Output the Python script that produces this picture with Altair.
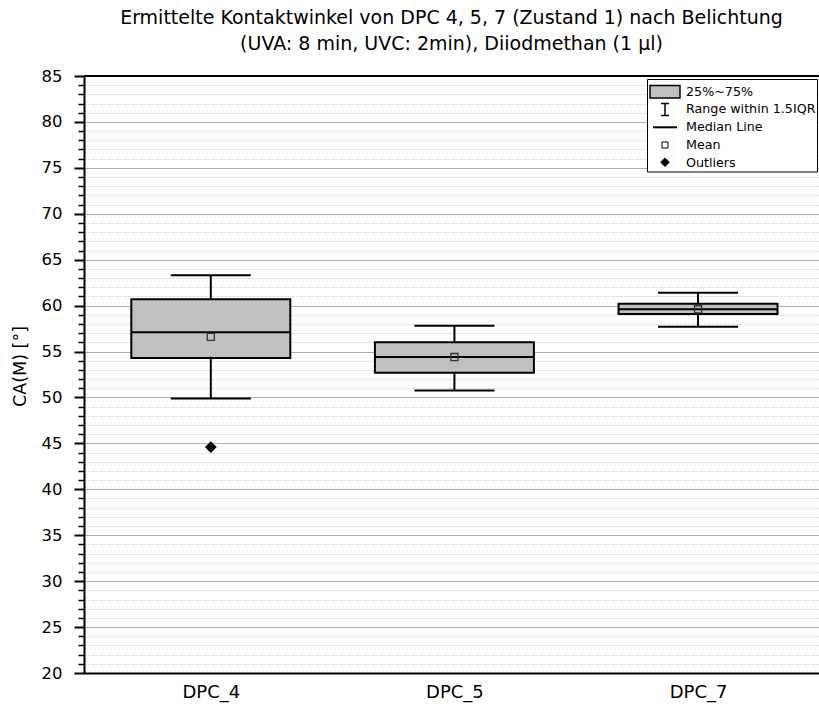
import altair as alt
import pandas as pd

# ---- data ----
groups = ["DPC_4", "DPC_5", "DPC_7"]
positions = [1, 2, 3]
whisker_low = [49.9, 50.75, 57.7]
q1 = [54.3, 52.7, 59.1]
median = [57.1, 54.4, 59.6]
q3 = [60.7, 56.0, 60.2]
whisker_high = [63.3, 57.8, 61.4]
means = [56.6, 54.4, 59.6]

outlier_groups = ["DPC_4"]
outlier_positions = [1]
outlier_values = [44.6]

legend_labels = ["25%~75%", "Range within 1.5IQR", "Median Line", "Mean", "Outliers"]

y_major = list(range(20, 90, 5))
y_minor = [v for v in range(20, 86) if v % 5]

FONT = "DejaVu Sans"
W, H = 735, 597

df = pd.DataFrame(dict(group=groups, pos=positions, lo=whisker_low, q1=q1,
                       med=median, q3=q3, hi=whisker_high, mean=means))
out = pd.DataFrame(dict(group=outlier_groups, pos=outlier_positions, value=outlier_values))
leg = pd.DataFrame(dict(label=legend_labels, row=list(range(len(legend_labels)))))
one = pd.DataFrame({"a": [0]})

xscale = alt.Scale(domain=[0.5, 3.476], nice=False, zero=False)
yscale = alt.Scale(domain=[20, 85], nice=False, zero=False)

label_expr = "[" + ",".join(f"'{g}'" for g in groups) + "][datum.value - 1]"
x_axis = alt.Axis(values=positions, labelExpr=label_expr, title=None, ticks=False,
                  grid=False, domainColor="black", domainWidth=2, labelFontSize=18,
                  labelFont=FONT, labelColor="black", labelPadding=10)
X = alt.X("pos:Q", scale=xscale, axis=x_axis)

minor_axis = alt.Axis(orient="left", values=y_minor, labels=False, title=None,
                      tickSize=6, tickWidth=1.5, tickColor="black", domain=False,
                      grid=True, gridDash=[2, 2], gridColor="#cfcfcf", gridWidth=1)
major_axis = alt.Axis(orient="left", values=y_major, title="CA(M) [°]", tickSize=10,
                      tickWidth=2, tickColor="black", domainColor="black", domainWidth=2,
                      grid=True, gridColor="#b0b0b0", gridWidth=1,
                      labelFontSize=16.5, labelFont=FONT, labelColor="black", labelPadding=12,
                      titleFont=FONT, titleFontSize=17.5, titleFontWeight="normal",
                      titleColor="black", titlePadding=12, titleY=290)

base = alt.Chart(df)

whiskers_lo = base.mark_rule(color="black", strokeWidth=2).encode(
    x=X, y=alt.Y("lo:Q", scale=yscale, axis=minor_axis), y2="q1:Q")
whiskers_hi = base.mark_rule(color="black", strokeWidth=2).encode(
    x=X, y=alt.Y("q3:Q", scale=yscale, axis=None), y2="hi:Q")
caps_lo = base.mark_tick(orient="horizontal", size=80, thickness=2, color="black", opacity=1).encode(
    x=X, y=alt.Y("lo:Q", scale=yscale, axis=None))
caps_hi = base.mark_tick(orient="horizontal", size=80, thickness=2, color="black", opacity=1).encode(
    x=X, y=alt.Y("hi:Q", scale=yscale, axis=None))
boxes = base.mark_bar(size=159, fill="#c0c0c0", stroke="black", strokeWidth=2).encode(
    x=X, y=alt.Y("q1:Q", scale=yscale, axis=major_axis), y2="q3:Q")
medians = base.mark_tick(orient="horizontal", size=159, thickness=2, color="black", opacity=1).encode(
    x=X, y=alt.Y("med:Q", scale=yscale, axis=None))
mean_pts = base.mark_point(shape="square", size=50, filled=False, stroke="#333333",
                           strokeWidth=1.3, opacity=1).encode(
    x=X, y=alt.Y("mean:Q", scale=yscale, axis=None))
outliers = alt.Chart(out).mark_point(shape="diamond", size=140, filled=True, color="black",
                                     opacity=1).encode(
    x=X, y=alt.Y("value:Q", scale=yscale, axis=None))
top_frame = alt.Chart(one).mark_rule(color="black", strokeWidth=2).encode(
    y=alt.datum(85, scale=yscale, axis=None))

# ---- hand-made legend (pixel layout inside the plot area) ----
leg_frame = alt.Chart(one).mark_rect(fill="white", stroke="black", strokeWidth=1).encode(
    x=alt.value(563.5), x2=alt.value(733.5), y=alt.value(3.5), y2=alt.value(96))
leg_text = alt.Chart(leg).transform_calculate(py="15.7 + 17.7 * datum.row").mark_text(
    align="left", baseline="middle", fontSize=12.7, font=FONT, color="black").encode(
    x=alt.value(602), y=alt.Y("py:Q", scale=None, axis=None), text="label:N")
leg_swatch = alt.Chart(one).mark_rect(fill="#c0c0c0", stroke="black", strokeWidth=1.5).encode(
    x=alt.value(566), x2=alt.value(596), y=alt.value(9.5), y2=alt.value(22))
leg_i = alt.Chart(one).mark_rule(color="black", strokeWidth=1.5).encode(
    x=alt.value(581), y=alt.value(27.5), y2=alt.value(39.5))
leg_i_top = alt.Chart(one).mark_rule(color="black", strokeWidth=1.5).encode(
    x=alt.value(577), x2=alt.value(585), y=alt.value(27.5))
leg_i_bot = alt.Chart(one).mark_rule(color="black", strokeWidth=1.5).encode(
    x=alt.value(577), x2=alt.value(585), y=alt.value(39.5))
leg_med = alt.Chart(one).mark_rule(color="black", strokeWidth=2).encode(
    x=alt.value(569), x2=alt.value(593), y=alt.value(51.3))
leg_mean = alt.Chart(one).mark_point(shape="square", size=36, filled=False, stroke="black",
                                     strokeWidth=1, opacity=1).encode(
    x=alt.value(581), y=alt.value(69))
leg_out = alt.Chart(one).mark_point(shape="diamond", size=90, filled=True, color="black",
                                    opacity=1).encode(
    x=alt.value(581), y=alt.value(86.3))

chart = alt.layer(
    whiskers_lo, boxes, whiskers_hi, caps_lo, caps_hi, medians, mean_pts, outliers, top_frame,
    leg_frame, leg_text, leg_swatch, leg_i, leg_i_top, leg_i_bot, leg_med, leg_mean, leg_out
).resolve_axis(y="independent").properties(
    width=W, height=H,
    autosize=alt.AutoSizeParams(type="none"),
    padding={"left": 84, "top": 76, "right": 0, "bottom": 35},
    title=alt.TitleParams(
        text=["Ermittelte Kontaktwinkel von DPC 4, 5, 7 (Zustand 1) nach Belichtung",
              "(UVA: 8 min, UVC: 2min), Diiodmethan (1 µl)"],
        font=FONT, fontSize=19, fontWeight="normal", color="black",
        anchor="middle", frame="group", lineHeight=26, offset=14),
).configure_view(stroke=None).configure(background="white")

chart.save("out.html", embed_options={"renderer": "svg", "actions": False})
